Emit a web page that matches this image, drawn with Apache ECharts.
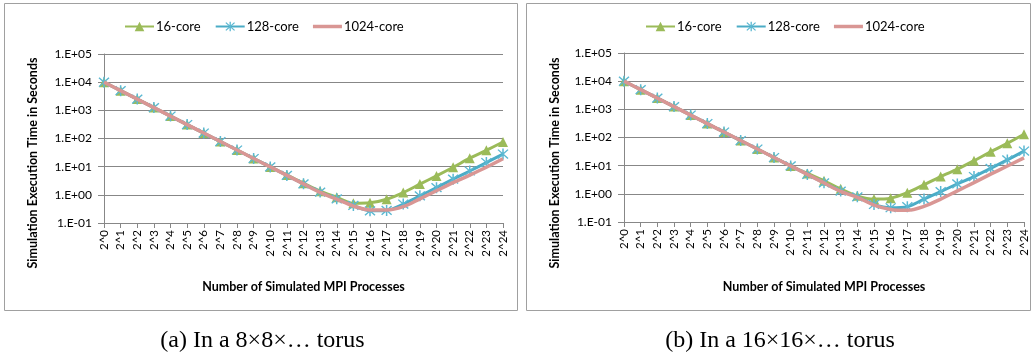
<!DOCTYPE html>
<html>
<head>
<meta charset="utf-8">
<script src="https://cdn.jsdelivr.net/npm/echarts@6/dist/echarts.min.js"></script>
<style>
html,body{margin:0;padding:0;background:#fff;}
#c{width:1033px;height:359px;}
</style>
</head>
<body>
<div id="c"></div>
<script>
const categories = ['2^0','2^1','2^2','2^3','2^4','2^5','2^6','2^7','2^8','2^9','2^10','2^11','2^12','2^13','2^14','2^15','2^16','2^17','2^18','2^19','2^20','2^21','2^22','2^23','2^24'];
const seriesNames = ['16-core','128-core','1024-core'];
// (a) 8x8x... torus
const a16   = [10000,5000,2500,1250,625,312,156,78,39,19.5,9.8,5.1,2.6,1.35,0.82,0.5,0.52,0.7,1.2,2.4,4.7,9.5,20,38,75];
const a128  = [10000,5000,2500,1250,625,312,156,78,39,19.5,9.8,4.9,2.45,1.25,0.72,0.42,0.27,0.28,0.47,0.92,1.8,3.6,7,14,28];
const a1024 = [10000,5000,2500,1250,625,312,156,78,39,19.5,9.8,4.9,2.45,1.22,0.7,0.4,0.29,0.29,0.38,0.72,1.4,2.7,5,9.5,19];
// (b) 16x16x... torus
const b16   = [10000,5000,2500,1250,625,312,156,78,39,19.5,9.8,5.3,2.9,1.5,0.85,0.65,0.7,1.1,2.1,4.1,7.5,15,31,62,130];
const b128  = [10000,5000,2500,1250,625,312,156,78,39,19.5,9.8,4.9,2.45,1.25,0.78,0.42,0.32,0.35,0.65,1.2,2.25,4.1,8,16,33];
const b1024 = [10000,5000,2500,1250,625,312,156,78,39,19.5,9.8,4.9,2.45,1.22,0.75,0.4,0.28,0.26,0.36,0.65,1.28,2.5,5,9.7,19];
const captions = ['(a) In a 8×8×… torus', '(b) In a 16×16×… torus'];
const yTitle = 'Simulation Execution Time in Seconds';
const xTitle = 'Number of Simulated MPI Processes';

const FONT = 'Lato, "Open Sans", sans-serif';
const colors = ['#9BBB59', '#4BACC6', '#D99694'];
const starPath = 'path://M4.4,0h1.2v10h-1.2z M0.6,1.4 L1.4,0.6 L9.4,8.6 L8.6,9.4z M8.6,0.6 L9.4,1.4 L1.4,9.4 L0.6,8.6z';
const symbols = ['triangle', starPath, 'none'];
const symbolSizes = [10, 11, 4];
const gridColor = '#878787';

function fmt(v){
  const e = Math.round(Math.log10(v));
  return '1.E' + (e < 0 ? '-' : '+') + String(Math.abs(e)).padStart(2,'0');
}

const panels = [
  {left:104, right:530, top:54, data:[a16,a128,a1024], bx:4, bw:513, legendLeft:124},
  {left:624, right:9, top:53, data:[b16,b128,b1024], bx:526, bw:504, legendLeft:645}
];

const grids=[], xAxes=[], yAxes=[], series=[], legends=[], graphics=[];
panels.forEach((p,pi)=>{
  grids.push({left:p.left, right:p.right, top:p.top, height:169, containLabel:false});
  xAxes.push({
    type:'category', gridIndex:pi, data:categories, boundaryGap:false,
    axisLine:{lineStyle:{color:gridColor, width:1}},
    axisTick:{show:true, alignWithLabel:true, length:5, lineStyle:{color:gridColor}},
    axisLabel:{rotate:90, fontFamily:FONT, fontSize:11.5, color:'#000', margin:7, interval:0},
    splitLine:{show:false}
  });
  yAxes.push({
    type:'log', gridIndex:pi, logBase:10, min:0.1, max:100000, interval:1,
    axisLine:{show:true, lineStyle:{color:gridColor, width:1}},
    axisTick:{show:true, length:6, lineStyle:{color:gridColor}},
    axisLabel:{formatter:fmt, fontFamily:FONT, fontSize:12, color:'#000', margin:12},
    splitLine:{show:true, lineStyle:{color:gridColor, width:1}},
    minorTick:{show:false}, minorSplitLine:{show:false}
  });
  seriesNames.forEach((n,si)=>{
    series.push({
      name:n, type:'line', xAxisIndex:pi, yAxisIndex:pi, data:p.data[si],
      smooth:0.3, symbol:symbols[si], symbolSize:symbolSizes[si], showSymbol:si<2,
      lineStyle:{color:colors[si], width: si===2 ? 3.5 : 3},
      itemStyle:{color: si===1 ? '#5BB8D2' : colors[si]},
      z: 2+si, animation:false
    });
  });
  legends.push({
    data:[{name:seriesNames[0]},{name:seriesNames[1]},{name:seriesNames[2], icon:'path://M0,0h29v3.5h-29z', itemStyle:{color:colors[2]}}],
    left:p.legendLeft, top:20, orient:'horizontal', padding:0,
    itemWidth:29, itemHeight:12, itemGap:14,
    textStyle:{fontFamily:FONT, fontSize:13, color:'#000', padding:[0,0,0,-3]}
  });
  // panel border
  graphics.push({type:'rect', shape:{x:p.bx+0.5, y:3.5, width:p.bw, height:307},
    style:{fill:'none', stroke:'#A0A0A0', lineWidth:1}, z:-1});
  // y axis title
  graphics.push({type:'text', x:p.bx+29, y:163, rotation:Math.PI/2,
    style:{text:yTitle, font:'bold 12.5px '+FONT, fill:'#000', textAlign:'center', textVerticalAlign:'middle'}});
  // x axis title
  const cx = p.left + ((1033 - p.right) - p.left)/2;
  graphics.push({type:'text', x:cx, y:287,
    style:{text:xTitle, font:'bold 12.5px '+FONT, fill:'#000', textAlign:'center', textVerticalAlign:'middle'}});
  // caption
  graphics.push({type:'text', x:p.bx + p.bw/2 + 2, y:341,
    style:{text:captions[pi], font:'24px "Liberation Serif", serif', fill:'#000', textAlign:'center', textVerticalAlign:'middle'}});
});

const chart = echarts.init(document.getElementById('c'), null, {renderer:'canvas'});
chart.setOption({
  animation:false,
  grid:grids, xAxis:xAxes, yAxis:yAxes, series:series, legend:legends, graphic:graphics
});
</script>
</body>
</html>
